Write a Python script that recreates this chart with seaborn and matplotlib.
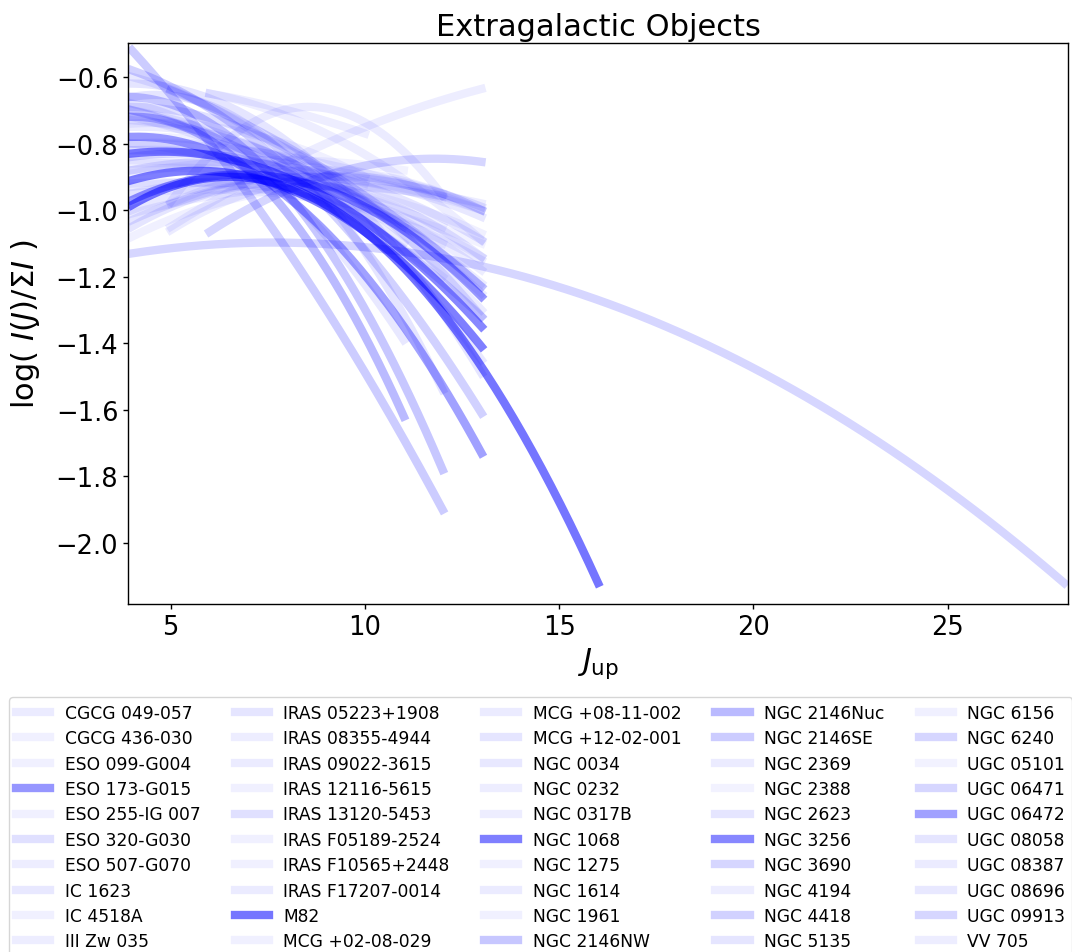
import numpy as np
import pandas as pd
import matplotlib
matplotlib.use("Agg")
import matplotlib.pyplot as plt
import seaborn as sns

# Object names (legend order)
names = [
    "CGCG 049-057", "CGCG 436-030", "ESO 099-G004", "ESO 173-G015", "ESO 255-IG 007",
    "ESO 320-G030", "ESO 507-G070", "IC 1623", "IC 4518A", "III Zw 035",
    "IRAS 05223+1908", "IRAS 08355-4944", "IRAS 09022-3615", "IRAS 12116-5615", "IRAS 13120-5453",
    "IRAS F05189-2524", "IRAS F10565+2448", "IRAS F17207-0014", "M82", "MCG +02-08-029",
    "MCG +08-11-002", "MCG +12-02-001", "NGC 0034", "NGC 0232", "NGC 0317B",
    "NGC 1068", "NGC 1275", "NGC 1614", "NGC 1961", "NGC 2146NW",
    "NGC 2146Nuc", "NGC 2146SE", "NGC 2369", "NGC 2388", "NGC 2623",
    "NGC 3256", "NGC 3690", "NGC 4194", "NGC 4418", "NGC 5135",
    "NGC 6156", "NGC 6240", "UGC 05101", "UGC 06471", "UGC 06472",
    "UGC 08058", "UGC 08387", "UGC 08696", "UGC 09913", "VV 705",
]

# Opacity of each object's curve
alphas = [
    0.08, 0.06, 0.06, 0.41, 0.06,
    0.12, 0.07, 0.09, 0.06, 0.07,
    0.10, 0.07, 0.08, 0.06, 0.12,
    0.06, 0.06, 0.08, 0.54, 0.06,
    0.08, 0.10, 0.09, 0.07, 0.07,
    0.50, 0.06, 0.08, 0.06, 0.22,
    0.27, 0.20, 0.08, 0.05, 0.10,
    0.47, 0.16, 0.07, 0.18, 0.10,
    0.06, 0.16, 0.05, 0.16, 0.37,
    0.10, 0.08, 0.09, 0.16, 0.07,
]

# Lowest and highest upper-level J covered by each fit
j_low = [
    4, 4, 4, 4, 4,
    4, 5, 4, 4, 6,
    4, 5, 5, 4, 4,
    4, 4, 4, 4, 4,
    4, 4, 4, 4, 6,
    4, 4, 4, 4, 4,
    4, 4, 4, 4, 4,
    4, 6, 4, 4, 4,
    4, 4, 4, 5, 4,
    4, 5, 4, 4, 4,
]
j_high = [
    13, 11, 13, 13, 12,
    13, 13, 13, 10, 13,
    13, 13, 12, 12, 13,
    13, 12, 11, 16, 13,
    13, 12, 11, 13, 10,
    13, 12, 13, 10, 12,
    11, 12, 13, 13, 13,
    13, 13, 13, 13, 13,
    12, 28, 11, 13, 13,
    13, 13, 13, 13, 13,
]

# log(I(J)/sum I) of each fit at its lowest J, mid J and highest J
logi_low = [
    -0.70, -0.78, -0.88, -0.97, -0.82,
    -0.69, -0.98, -0.60, -0.74, -0.65,
    -1.03, -1.05, -0.975, -0.92, -0.84,
    -1.08, -0.80, -0.72, -0.985, -0.95,
    -0.75, -0.66, -0.68, -1.01, -0.65,
    -0.91, -0.86, -0.93, -0.80, -0.66,
    -0.72, -0.52, -0.73, -0.95, -0.62,
    -0.83, -1.065, -0.82, -0.58, -0.88,
    -0.85, -1.13, -0.89, -0.64, -0.78,
    -1.05, -1.06, -1.00, -0.70, -0.80,
]
logi_mid = [
    -0.88, -0.84, -0.92, -0.92, -0.86,
    -0.85, -0.88, -0.88, -0.77, -0.80,
    -0.90, -0.80, -0.69, -0.95, -0.90,
    -0.93, -0.92, -0.86, -1.065, -0.92,
    -0.88, -0.84, -0.90, -0.93, -0.70,
    -0.96, -0.88, -0.95, -0.82, -0.95,
    -0.94, -1.12, -0.88, -0.96, -0.84,
    -0.93, -0.88, -0.90, -0.93, -0.88,
    -0.90, -1.27, -0.85, -0.88, -1.01,
    -0.92, -0.90, -0.90, -0.92, -0.85,
]
logi_high = [
    -1.22, -1.05, -1.14, -1.26, -0.95,
    -1.32, -1.00, -1.45, -0.90, -1.09,
    -0.99, -0.636, -0.957, -1.10, -1.23,
    -1.00, -1.20, -1.10, -2.12, -1.07,
    -1.30, -1.54, -1.39, -0.98, -0.77,
    -1.41, -0.96, -1.15, -0.92, -1.78,
    -1.62, -1.90, -1.25, -1.10, -1.49,
    -1.35, -0.855, -1.18, -1.61, -1.09,
    -1.05, -2.12, -0.88, -1.23, -1.73,
    -1.14, -1.00, -1.02, -1.32, -1.00,
]

sns.set_style("ticks")
plt.rcParams["font.family"] = ["DejaVu Sans"]
plt.rcParams["mathtext.fontset"] = "dejavusans"
for key in ("text.color", "axes.labelcolor", "xtick.color", "ytick.color",
            "axes.edgecolor"):
    plt.rcParams[key] = "black"

fig = plt.figure(figsize=(10.72, 9.53), dpi=100)
ax = fig.add_axes([0.1194, 0.3652, 0.8769, 0.5883])

for name, a, j0, j1, y0, ym, y1 in zip(names, alphas, j_low, j_high,
                                       logi_low, logi_mid, logi_high):
    jm = 0.5 * (j0 + j1)
    coef = np.polyfit([j0, jm, j1], [y0, ym, y1], 2)
    jj = np.linspace(j0, j1, 200)
    df = pd.DataFrame({"J": jj, "logI": np.polyval(coef, jj)})
    sns.lineplot(data=df, x="J", y="logI", ax=ax, color="blue", alpha=a,
                 linewidth=6, label=name, sort=False,
                 solid_capstyle="projecting")

ax.set_xlim(3.9, 28.1)
ax.set_ylim(-2.183, -0.499)
ax.set_xticks([5, 10, 15, 20, 25])
ax.set_yticks([-2.0, -1.8, -1.6, -1.4, -1.2, -1.0, -0.8, -0.6])
ax.tick_params(labelsize=18.5, length=3.5, width=1.0, colors="black")
for s in ax.spines.values():
    s.set_color("black")
    s.set_linewidth(1.0)

ax.set_title("Extragalactic Objects", fontsize=22)
ax.set_xlabel(r"$J_{\rm up}$", fontsize=22)
ax.set_ylabel(r"log( $I(J)/\Sigma I$ )", fontsize=22, labelpad=10)

leg = ax.legend(loc="upper left", bbox_to_anchor=(0.0087, 0.2673),
                bbox_transform=fig.transFigure, borderaxespad=0.0,
                ncol=5, fontsize=12.3, handlelength=2.0, handletextpad=0.85,
                labelspacing=0.43, columnspacing=2.0, borderpad=0.4,
                frameon=True, fancybox=True)
leg.get_frame().set_edgecolor("#cccccc")
for t in leg.get_texts():
    t.set_color("black")

fig.savefig("out.png", dpi=100)
